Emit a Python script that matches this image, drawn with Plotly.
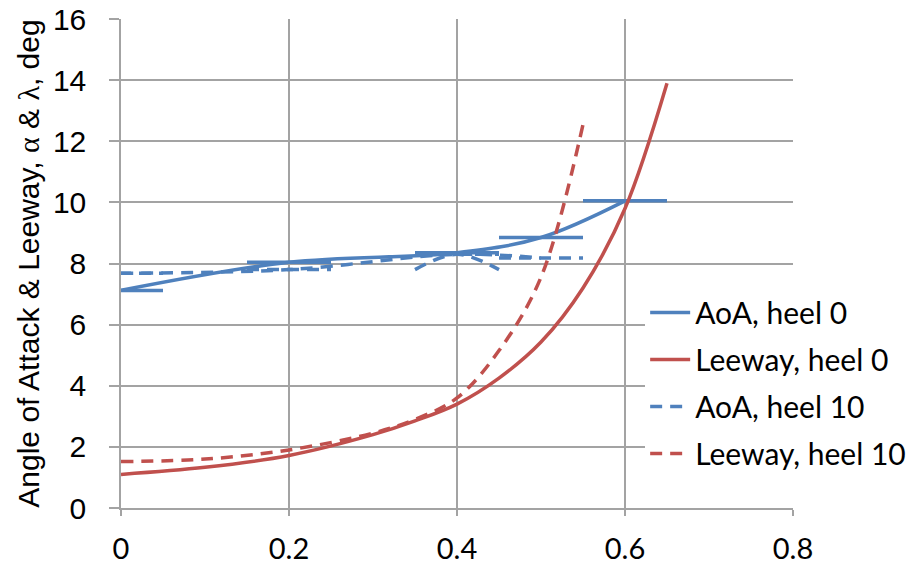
import plotly.graph_objects as go

# Angle of attack (deg) against x, heel 0 and heel 10
aoa0_x = [0.0, 0.2, 0.4, 0.5, 0.6]
aoa0_y = [7.12, 8.04, 8.35, 8.85, 10.05]
aoa10_x = [0.0, 0.2, 0.4, 0.5]
aoa10_y = [7.68, 7.80, 8.30, 8.18]
# small side branch of the heel-10 AoA curve around x = 0.4
aoa10_spur_x = [0.35, 0.4, 0.45]
aoa10_spur_y = [7.80, 8.30, 7.80]
# horizontal half-width of the AoA range bars
bar_half = 0.05

# Leeway (deg) against x, heel 0 and heel 10
lee0_x = [0.0, 0.1, 0.2, 0.3, 0.35, 0.4, 0.45, 0.5, 0.55, 0.6, 0.65]
lee0_y = [1.10, 1.33, 1.72, 2.40, 2.85, 3.40, 4.25, 5.43, 7.20, 9.80, 13.90]
lee10_x = [0.0, 0.1, 0.2, 0.3, 0.35, 0.4, 0.45, 0.5, 0.55]
lee10_y = [1.52, 1.60, 1.90, 2.45, 2.90, 3.60, 5.15, 7.55, 12.55]

x_ticks = [0, 0.2, 0.4, 0.6, 0.8]
x_tick_text = ["0", "0.2", "0.4", "0.6", "0.8"]
y_ticks = [0, 2, 4, 6, 8, 10, 12, 14, 16]

BLUE = "#4F81BD"
RED = "#C0504D"
GRID = "#a3a3a3"
DASH = "12px,8px"
LW = 3.5


def bar_segments(xs, ys, half):
    """Horizontal segments x-half .. x+half at each point, separated by gaps."""
    bx, by = [], []
    for x, y in zip(xs, ys):
        bx += [x - half, x + half, None]
        by += [y, y, None]
    return bx, by


fig = go.Figure()

# AoA, heel 0
fig.add_trace(go.Scatter(
    x=aoa0_x, y=aoa0_y, mode="lines", name="AoA, heel 0",
    legendgroup="a0", legendrank=1,
    line=dict(color=BLUE, width=LW, shape="spline")))
bx, by = bar_segments(aoa0_x, aoa0_y, bar_half)
fig.add_trace(go.Scatter(
    x=bx, y=by, mode="lines", legendgroup="a0", showlegend=False,
    hoverinfo="skip", line=dict(color=BLUE, width=LW)))

# AoA, heel 10
fig.add_trace(go.Scatter(
    x=aoa10_x, y=aoa10_y, mode="lines", name="AoA, heel 10",
    legendgroup="a10", legendrank=3,
    line=dict(color=BLUE, width=LW, shape="spline", dash=DASH)))
bx, by = bar_segments(aoa10_x, aoa10_y, bar_half)
fig.add_trace(go.Scatter(
    x=bx, y=by, mode="lines", legendgroup="a10", showlegend=False,
    hoverinfo="skip", line=dict(color=BLUE, width=LW, dash=DASH)))
fig.add_trace(go.Scatter(
    x=aoa10_spur_x, y=aoa10_spur_y, mode="lines", legendgroup="a10",
    showlegend=False, hoverinfo="skip",
    line=dict(color=BLUE, width=LW, shape="spline", dash=DASH)))

# Leeway, heel 0
fig.add_trace(go.Scatter(
    x=lee0_x, y=lee0_y, mode="lines", name="Leeway, heel 0",
    legendgroup="l0", legendrank=2,
    line=dict(color=RED, width=LW, shape="spline")))

# Leeway, heel 10
fig.add_trace(go.Scatter(
    x=lee10_x, y=lee10_y, mode="lines", name="Leeway, heel 10",
    legendgroup="l10", legendrank=4,
    line=dict(color=RED, width=LW, shape="spline", dash=DASH)))

serif = "font-family:'Liberation Serif', 'DejaVu Serif', serif"
y_title = (f"Angle of Attack &amp; Leeway, <span style=\"{serif}\">α</span> &amp; "
           f"<span style=\"{serif}\">λ</span>, deg")

fig.update_layout(
    width=911, height=567,
    margin=dict(l=121, r=118, t=19, b=59, pad=0, autoexpand=False),
    paper_bgcolor="white", plot_bgcolor="white",
    font=dict(family="Lato, 'Liberation Sans', sans-serif", size=28, color="black"),
    showlegend=True,
    legend=dict(
        x=0.78, y=0.453, xanchor="left", yanchor="top",
        bgcolor="white", borderwidth=0,
        font=dict(family="Lato, sans-serif", size=30, color="black"),
        tracegroupgap=5, itemwidth=40,
    ),
    xaxis=dict(
        range=[0, 0.8], tickvals=x_ticks, ticktext=x_tick_text,
        automargin=False,
        showgrid=True, gridcolor=GRID, gridwidth=1.5,
        showline=True, linecolor=GRID, linewidth=1.5,
        ticks="outside", ticklen=6, tickcolor=GRID, tickwidth=1.5,
        zeroline=False, ticklabelstandoff=8,
        tickfont=dict(family="Lato, sans-serif", size=29, color="black"),
    ),
    yaxis=dict(
        range=[0, 16], tickvals=y_ticks,
        automargin=False,
        showgrid=True, gridcolor=GRID, gridwidth=1.5,
        showline=True, linecolor=GRID, linewidth=1.5,
        ticks="outside", ticklen=10, tickcolor=GRID, tickwidth=1.5,
        zeroline=False, ticklabelstandoff=17,
        tickfont=dict(family="'Liberation Sans', Arial, sans-serif", size=30, color="black"),
        title=dict(text=y_title, standoff=4,
                   font=dict(family="'Liberation Sans', Arial, sans-serif", size=30,
                             color="black")),
    ),
)

fig.write_html("out.html")
